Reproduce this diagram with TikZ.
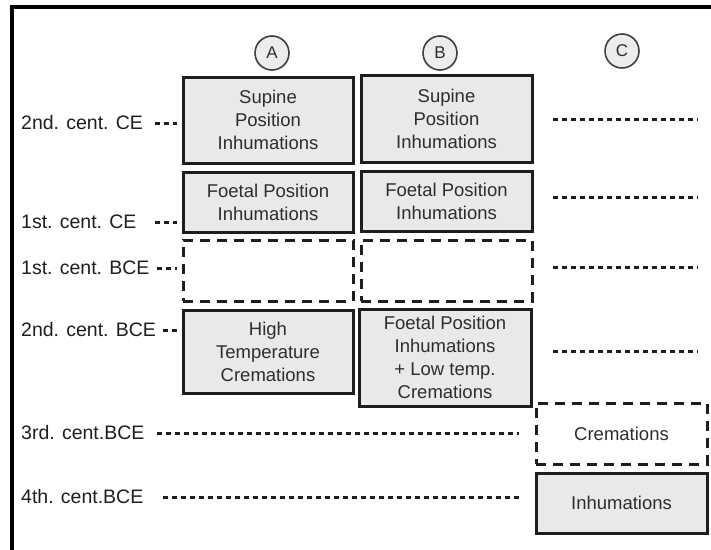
\documentclass[tikz,border=0pt]{standalone}
\usepackage{fontspec}
\setmainfont{Liberation Sans}
\definecolor{boxgray}{RGB}{233,233,233}
\definecolor{circgray}{RGB}{236,236,236}
\definecolor{ink}{RGB}{30,30,30}
\definecolor{txt}{RGB}{45,45,45}
\begin{document}
\begin{tikzpicture}[x=1pt,y=-1pt,
  box/.style={draw=ink, line width=3pt, fill=boxgray, align=center, inner sep=0pt,
    font=\fontsize{18.5}{23}\selectfont, text=txt},
  dbox/.style={draw=ink, line width=3pt, dash pattern=on 10pt off 7pt, align=center, inner sep=0pt,
    font=\fontsize{18.5}{23}\selectfont, text=txt},
  lab/.style={anchor=west, inner sep=0pt, font=\fontsize{19.5}{23}\selectfont, text=ink},
  dots/.style={draw=ink, line width=3pt, dash pattern=on 5pt off 4pt},
  col/.style={circle, draw=ink!85, line width=1.6pt, fill=circgray, minimum size=34pt, inner sep=0pt,
    font=\fontsize{17}{17}\selectfont, text=txt},
  frame/.style={draw=black, line width=4pt}]
\useasboundingbox (0,0) rectangle (711,549);
% frame (cropped on right and bottom)
\draw[frame] (12,560) -- (12,7) -- (720,7);

% column heads
\node[col] (ha) at (272,53) {A};
\node[col] (hb) at (440,53) {B};
\node[col] (hc) at (622,51) {C};

% column A
\node[box, minimum width=170pt, minimum height=86pt] (a1) at (268,120) {Supine\\Position\\Inhumations};
\node[box, minimum width=170pt, minimum height=60pt] (a2) at (268,202) {Foetal Position\\Inhumations};
\node[dbox, minimum width=170pt, minimum height=61pt] (a3) at (268,270.5) {};
\node[box, minimum width=170pt, minimum height=83pt] (a4) at (268,351.5) {High\\Temperature\\Cremations};

% column B
\node[box, minimum width=171pt, minimum height=87pt] (b1) at (446.5,118.5) {Supine\\Position\\Inhumations};
\node[box, minimum width=171pt, minimum height=60pt] (b2) at (446.5,201) {Foetal Position\\Inhumations};
\node[dbox, minimum width=171pt, minimum height=61pt] (b3) at (446.5,270.5) {};
\node[box, minimum width=172pt, minimum height=97pt] (b4) at (445,357.5) {Foetal Position\\Inhumations\\+ Low temp.\\Cremations};

% column C
\node[dbox, minimum width=171pt, minimum height=61pt] (c1) at (621.5,433.5) {Cremations};
\node[box, minimum width=171pt, minimum height=60pt] (c2) at (621.5,503) {Inhumations};

% period labels
\node[lab] (l1) at (21,123) {2nd. cent. CE};
\node[lab] (l2) at (21,222) {1st. cent. CE};
\node[lab] (l3) at (21,268) {1st. cent. BCE};
\node[lab] (l4) at (21,330) {2nd. cent. BCE};
\node[lab] (l5) at (21,433) {3rd. cent.BCE};
\node[lab] (l6) at (21,497) {4th. cent.BCE};

% dotted leaders from labels
\coordinate (s1) at (155,123);
\coordinate (s2) at (155,222);
\coordinate (s3) at (157,268);
\coordinate (s4) at (163,330);
\coordinate (s5) at (157,433);
\coordinate (s6) at (163,497);
\draw[dots, shorten >=5pt] (s1) -- (s1 -| a1.west);
\draw[dots, shorten >=5pt] (s2) -- (s2 -| a2.west);
\draw[dots, shorten >=5pt] (s3) -- (s3 -| a3.west);
\draw[dots, shorten >=5pt] (s4) -- (s4 -| a4.west);
\draw[dots, shorten >=16pt] (s5) -- (s5 -| c1.west);
\draw[dots, shorten >=14pt] (s6) -- (s6 -| c2.west);

% dotted lines in column C
\coordinate (e1a) at (553,119); \coordinate (e1b) at (698,119);
\coordinate (e2a) at (553,197); \coordinate (e2b) at (698,197);
\coordinate (e3a) at (553,267); \coordinate (e3b) at (698,267);
\coordinate (e4a) at (553,351); \coordinate (e4b) at (698,351);
\draw[dots] (e1a) -- (e1b);
\draw[dots] (e2a) -- (e2b);
\draw[dots] (e3a) -- (e3b);
\draw[dots] (e4a) -- (e4b);
\end{tikzpicture}
\end{document}
